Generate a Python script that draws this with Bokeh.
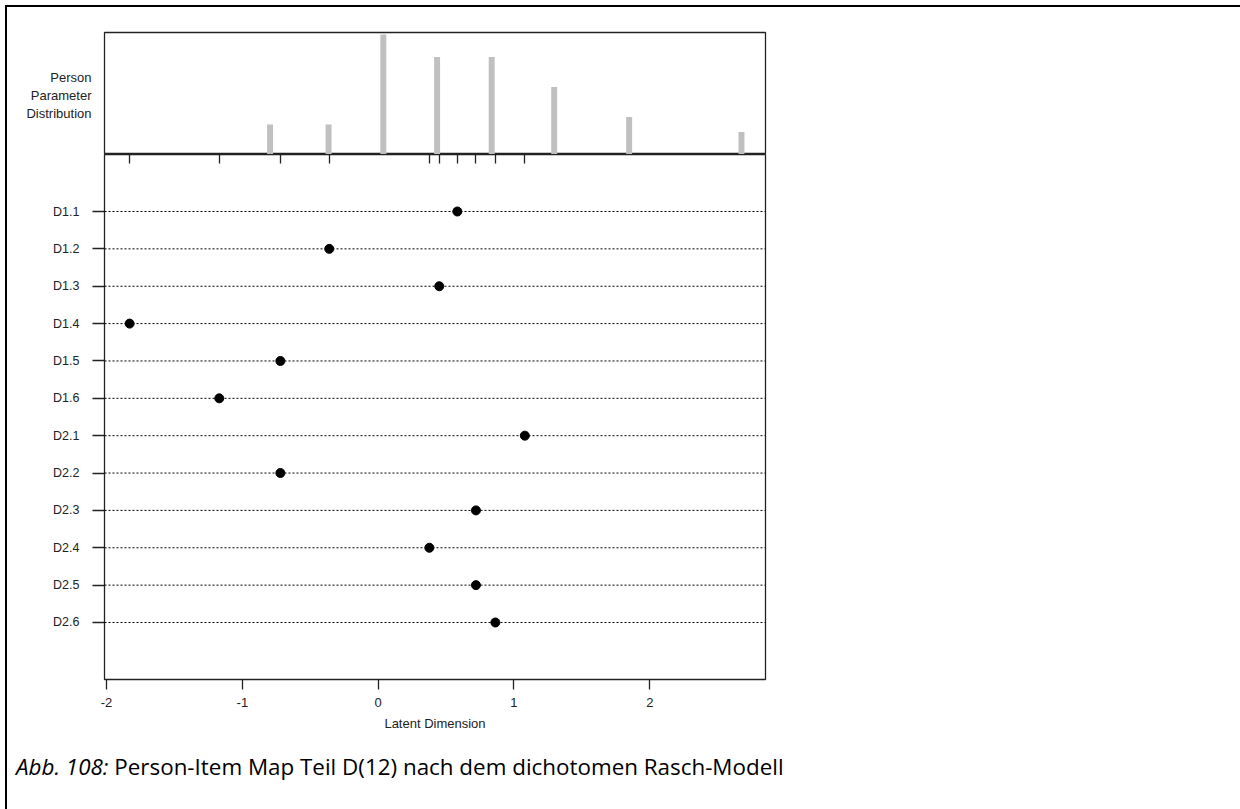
from bokeh.plotting import figure
from bokeh.layouts import column
from bokeh.models import Range1d, FixedTicker, LinearAxis, Span, Div
from bokeh.embed import file_html
from bokeh.resources import INLINE

# ---- data ----
items = ["D1.1", "D1.2", "D1.3", "D1.4", "D1.5", "D1.6",
         "D2.1", "D2.2", "D2.3", "D2.4", "D2.5", "D2.6"]
item_loc = [0.583, -0.36, 0.45, -1.83, -0.72, -1.17,
            1.08, -0.72, 0.72, 0.377, 0.72, 0.863]
person_theta = [-0.796, -0.365, 0.038, 0.434, 0.836, 1.296, 1.848, 2.675]
person_count = [4, 4, 16, 13, 13, 9, 5, 3]
x_ticks = [-2, -1, 0, 1, 2]
x_tick_labels = ["-2", "-1", "0", "1", "2"]
x_label = "Latent Dimension"
hist_label = "Person\nParameter\nDistribution"
caption_lead = "Abb. 108:"
caption_text = "Person-Item Map Teil D(12) nach dem dichotomen Rasch-Modell"

FONT = "Liberation Sans"
TXT = "#222222"
FS = "13px"

item_pos = list(range(len(items), 0, -1))
xr = Range1d(-2.015, 2.852)

W = 1232
LEFT = 97
RIGHT = W - 97 - 661

# ---- top panel: person parameter distribution ----
ymax = max(person_count) * 1.017
top = figure(width=W, height=147, x_range=xr, y_range=Range1d(0, ymax),
             output_backend="svg", toolbar_location=None, x_axis_location=None,
             min_border_top=25, min_border_left=LEFT, min_border_right=RIGHT,
             min_border_bottom=0)
top.vbar(x=person_theta, top=person_count, bottom=0, width=0.044,
         fill_color="#c0c0c0", line_color=None)
top.grid.visible = False
top.outline_line_color = "#222222"
top.outline_line_width = 1.3
mid = round(max(person_count) * 0.49, 2)
ya = top.yaxis[0]
ya.ticker = FixedTicker(ticks=[mid])
ya.major_label_overrides = {mid: hist_label}
ya.major_tick_out = 0
ya.major_tick_in = 0
ya.axis_line_color = None
ya.major_label_standoff = 13
ya.major_label_text_font = FONT
ya.major_label_text_font_size = FS
ya.major_label_text_color = TXT

# ---- bottom panel: item map ----
bot = figure(width=W, height=591, x_range=xr, y_range=Range1d(-0.526, len(items) + 1.526),
             output_backend="svg", toolbar_location=None,
             min_border_top=0, min_border_left=LEFT, min_border_right=RIGHT,
             min_border_bottom=66)
bot.grid.visible = False
bot.outline_line_color = "#222222"
bot.outline_line_width = 1.3

for pos in item_pos:
    bot.add_layout(Span(location=pos, dimension="width", line_color="black",
                        line_width=1, line_dash="2 2"))
bot.scatter(x=item_loc, y=item_pos, size=9, color="black")

xa = bot.xaxis[0]
xa.ticker = FixedTicker(ticks=x_ticks)
xa.major_label_overrides = dict(zip(x_ticks, x_tick_labels))
xa.major_tick_out = 10
xa.major_tick_in = 0
xa.minor_tick_out = 0
xa.minor_tick_in = 0
xa.axis_line_color = None
xa.major_tick_line_color = "#222222"
xa.major_tick_line_width = 1.3
xa.major_label_standoff = 8
xa.major_label_text_font = FONT
xa.major_label_text_font_size = FS
xa.major_label_text_color = TXT
xa.axis_label = x_label
xa.axis_label_standoff = 6
xa.axis_label_text_font = FONT
xa.axis_label_text_font_size = FS
xa.axis_label_text_font_style = "normal"
xa.axis_label_text_color = TXT

yb = bot.yaxis[0]
yb.ticker = FixedTicker(ticks=item_pos)
yb.major_label_overrides = {p: lab for p, lab in zip(item_pos, items)}
yb.major_tick_out = 12
yb.major_tick_in = 0
yb.minor_tick_out = 0
yb.minor_tick_in = 0
yb.axis_line_color = None
yb.major_tick_line_color = "#222222"
yb.major_tick_line_width = 1.3
yb.major_label_standoff = 13
yb.major_label_text_font = FONT
yb.major_label_text_font_size = "12.5px"
yb.major_label_text_color = TXT

# item location ticks on the boundary between the two panels
ta = LinearAxis(ticker=FixedTicker(ticks=item_loc), major_tick_in=9, major_tick_out=0,
                minor_tick_in=0, minor_tick_out=0,
                major_label_text_font_size="0px", major_label_text_color=None,
                major_label_standoff=0,
                axis_line_color=None, major_tick_line_color="#222222",
                major_tick_line_width=1.3)
bot.add_layout(ta, "above")

cap = Div(text=f"<i>{caption_lead}</i> {caption_text}", width=W, height=56,
          styles={"font-family": "Open Sans", "font-size": "22.4px", "color": "black",
                  "padding-left": "4px", "padding-top": "4px", "line-height": "1.2"})

layout = column(top, bot, cap, styles={"border-top": "2px solid black",
                                       "border-left": "2px solid black",
                                       "margin-left": "5px", "margin-top": "5px"})

open("out.html", "w").write(file_html(layout, INLINE))
